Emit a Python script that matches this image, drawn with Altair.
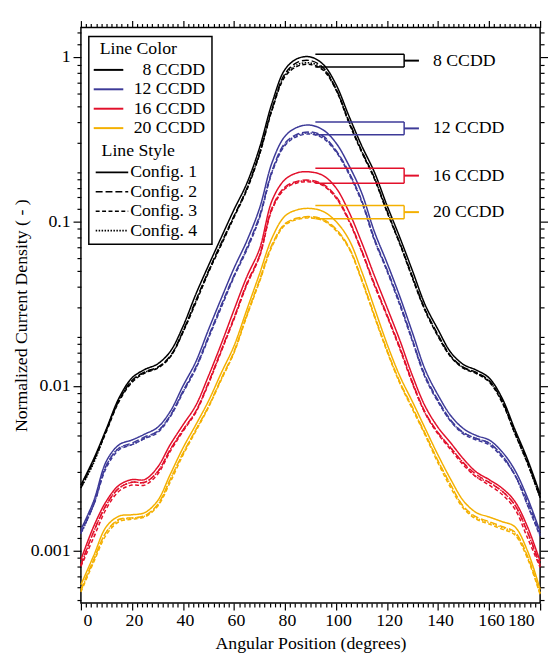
import altair as alt
import pandas as pd

# ---------------- data ----------------
degrees = list(range(0, 181, 5))

series_names = ["8 CCDD", "12 CCDD", "16 CCDD", "20 CCDD"]
config_names = ["Config. 1", "Config. 2", "Config. 3", "Config. 4"]

ccdd8_cfg1 = [0.0025, 0.0036, 0.0055, 0.0085, 0.0112, 0.0126, 0.0136, 0.0162, 0.0230, 0.036, 0.054, 0.080, 0.118, 0.170, 0.28, 0.53, 0.84, 0.98, 1.0, 0.90, 0.68, 0.44, 0.29, 0.20, 0.125, 0.080, 0.050, 0.031, 0.022, 0.016, 0.0135, 0.0125, 0.0112, 0.0085, 0.0055, 0.0036, 0.0022]
ccdd8_cfg2 = [0.0024, 0.0035, 0.0054, 0.0082, 0.0108, 0.0122, 0.0130, 0.0152, 0.0215, 0.033, 0.050, 0.074, 0.108, 0.158, 0.26, 0.49, 0.79, 0.93, 0.95, 0.86, 0.64, 0.41, 0.27, 0.185, 0.116, 0.074, 0.046, 0.029, 0.0205, 0.0152, 0.0130, 0.0121, 0.0108, 0.0082, 0.0053, 0.0035, 0.0021]
ccdd8_cfg3 = [0.0025, 0.0035, 0.0053, 0.0081, 0.0105, 0.0120, 0.0128, 0.0150, 0.0212, 0.032, 0.049, 0.072, 0.106, 0.155, 0.255, 0.48, 0.76, 0.88, 0.90, 0.83, 0.63, 0.40, 0.265, 0.182, 0.114, 0.073, 0.045, 0.0285, 0.020, 0.0150, 0.0128, 0.0119, 0.0106, 0.0080, 0.0052, 0.0034, 0.0021]
ccdd8_cfg4 = [0.0024, 0.0034, 0.0054, 0.0083, 0.0107, 0.0121, 0.0129, 0.0151, 0.0214, 0.0325, 0.0495, 0.073, 0.107, 0.157, 0.258, 0.485, 0.775, 0.90, 0.92, 0.845, 0.635, 0.405, 0.268, 0.184, 0.115, 0.0735, 0.0455, 0.0288, 0.0202, 0.0151, 0.0129, 0.0120, 0.0107, 0.0081, 0.0052, 0.0034, 0.0021]

ccdd12_cfg1 = [0.00134, 0.0020, 0.0035, 0.0044, 0.0047, 0.0051, 0.0056, 0.0070, 0.0100, 0.0140, 0.022, 0.034, 0.052, 0.076, 0.12, 0.23, 0.33, 0.375, 0.385, 0.36, 0.30, 0.22, 0.15, 0.087, 0.056, 0.035, 0.021, 0.0125, 0.0088, 0.0066, 0.0055, 0.0050, 0.0047, 0.0040, 0.0031, 0.0021, 0.0013]
ccdd12_cfg2 = [0.00128, 0.0019, 0.0033, 0.0042, 0.0045, 0.0049, 0.0053, 0.0066, 0.0093, 0.0130, 0.020, 0.031, 0.047, 0.069, 0.108, 0.205, 0.30, 0.34, 0.35, 0.33, 0.27, 0.20, 0.135, 0.079, 0.051, 0.032, 0.019, 0.0115, 0.0082, 0.0062, 0.0052, 0.0048, 0.0045, 0.0038, 0.0029, 0.0020, 0.00125]
ccdd12_cfg3 = [0.00130, 0.0019, 0.0032, 0.0041, 0.0044, 0.0048, 0.0052, 0.0065, 0.0091, 0.0127, 0.0195, 0.030, 0.046, 0.067, 0.105, 0.20, 0.29, 0.33, 0.34, 0.32, 0.265, 0.195, 0.132, 0.077, 0.050, 0.031, 0.0186, 0.0112, 0.0080, 0.0061, 0.0051, 0.0047, 0.0044, 0.0037, 0.0029, 0.0019, 0.00122]
ccdd12_cfg4 = [0.00126, 0.0019, 0.0033, 0.0042, 0.0044, 0.0048, 0.0053, 0.0066, 0.0092, 0.0128, 0.0198, 0.0305, 0.0465, 0.068, 0.106, 0.202, 0.295, 0.335, 0.345, 0.325, 0.268, 0.198, 0.134, 0.078, 0.0505, 0.0315, 0.0188, 0.0113, 0.0081, 0.0061, 0.0052, 0.0048, 0.0045, 0.0038, 0.0029, 0.0019, 0.00124]

ccdd16_cfg1 = [0.00088, 0.0014, 0.0020, 0.0025, 0.0027, 0.0027, 0.0032, 0.0044, 0.0058, 0.0076, 0.0115, 0.018, 0.029, 0.046, 0.068, 0.135, 0.18, 0.198, 0.20, 0.19, 0.16, 0.115, 0.075, 0.047, 0.030, 0.019, 0.0115, 0.0075, 0.0056, 0.0045, 0.0036, 0.0030, 0.0027, 0.0024, 0.0020, 0.0014, 0.00086]
ccdd16_cfg2 = [0.00082, 0.0013, 0.0019, 0.0024, 0.0026, 0.0026, 0.0030, 0.0041, 0.0054, 0.0070, 0.0105, 0.0165, 0.026, 0.042, 0.062, 0.122, 0.162, 0.176, 0.178, 0.168, 0.142, 0.103, 0.067, 0.042, 0.027, 0.0172, 0.0105, 0.0069, 0.0052, 0.0042, 0.0034, 0.0029, 0.0026, 0.0023, 0.0019, 0.0013, 0.00082]
ccdd16_cfg3 = [0.00080, 0.0012, 0.0018, 0.0023, 0.0025, 0.0025, 0.0029, 0.0040, 0.0053, 0.0069, 0.0103, 0.0162, 0.0255, 0.041, 0.061, 0.119, 0.158, 0.172, 0.174, 0.165, 0.139, 0.101, 0.066, 0.041, 0.0265, 0.0168, 0.0103, 0.0068, 0.0051, 0.0041, 0.0033, 0.0028, 0.0025, 0.0022, 0.0018, 0.0012, 0.00079]
ccdd16_cfg4 = [0.00081, 0.0013, 0.0019, 0.0024, 0.0026, 0.0026, 0.0030, 0.0041, 0.0054, 0.0070, 0.0104, 0.0164, 0.0258, 0.0415, 0.0615, 0.120, 0.160, 0.174, 0.176, 0.166, 0.140, 0.102, 0.0665, 0.0415, 0.0268, 0.0170, 0.0104, 0.0068, 0.0052, 0.0042, 0.0034, 0.0028, 0.0026, 0.0023, 0.0019, 0.0013, 0.00080]

ccdd20_cfg1 = [0.00062, 0.00093, 0.0014, 0.00162, 0.00165, 0.0017, 0.0020, 0.0029, 0.0042, 0.0058, 0.0081, 0.0120, 0.0175, 0.029, 0.048, 0.080, 0.108, 0.118, 0.12, 0.115, 0.100, 0.078, 0.050, 0.030, 0.018, 0.0115, 0.0080, 0.0055, 0.0038, 0.0027, 0.0020, 0.0017, 0.0016, 0.0015, 0.0014, 0.0010, 0.00058]
ccdd20_cfg2 = [0.00058, 0.00088, 0.0013, 0.00155, 0.00158, 0.00163, 0.0019, 0.0027, 0.0039, 0.0054, 0.0075, 0.0111, 0.0162, 0.027, 0.044, 0.073, 0.097, 0.105, 0.107, 0.103, 0.090, 0.070, 0.045, 0.027, 0.0165, 0.0106, 0.0074, 0.0051, 0.0035, 0.0025, 0.00185, 0.0016, 0.0015, 0.0014, 0.0013, 0.00093, 0.00055]
ccdd20_cfg3 = [0.00056, 0.00085, 0.00125, 0.00150, 0.00155, 0.00160, 0.00185, 0.0026, 0.0038, 0.0053, 0.0074, 0.0109, 0.0159, 0.0265, 0.043, 0.071, 0.095, 0.103, 0.105, 0.101, 0.088, 0.069, 0.044, 0.0265, 0.0162, 0.0104, 0.0072, 0.0050, 0.0034, 0.0024, 0.0018, 0.00155, 0.00145, 0.00135, 0.00125, 0.0009, 0.00054]
ccdd20_cfg4 = [0.00057, 0.00087, 0.0013, 0.00153, 0.00157, 0.00162, 0.00188, 0.0027, 0.0039, 0.0054, 0.0075, 0.0110, 0.0160, 0.0268, 0.0435, 0.072, 0.096, 0.104, 0.106, 0.102, 0.089, 0.0695, 0.0445, 0.0268, 0.0164, 0.0105, 0.0073, 0.0051, 0.0035, 0.0025, 0.00183, 0.00158, 0.00148, 0.00138, 0.00128, 0.00092, 0.00055]

# bracket annotations (peak spread per CCDD)
bracket_hi = [1.04, 0.403, 0.211, 0.125]
bracket_lo = [0.87, 0.337, 0.171, 0.104]
bracket_mid = [0.95, 0.368, 0.19, 0.114]

x_major = list(range(0, 181, 20))
x_minor = [v for v in range(0, 181, 2) if v % 20 != 0]
y_major = [0.001, 0.01, 0.1, 1]
y_minor = [m * d for d in [0.0001, 0.001, 0.01, 0.1, 1]
           for m in [1.2, 1.4, 1.6, 1.8, 2, 3, 4, 5, 6, 7, 8, 9]]

# ---------------- styles / layout ----------------
colors = ["#000000", "#3d3a98", "#e2102b", "#f4b000"]
dashes = [[1, 0], [7, 3], [4, 2.5], [1.5, 1.5]]
FONT = "Liberation Serif"
FS = 18
W, H = 466, 584
Y_MIN, Y_MAX = 0.00048, 1.51
BR_X0, BR_X1, BR_X2, LABEL_X = 91.9, 126.7, 132.5, 138.0

table = {
    "8 CCDD": [ccdd8_cfg1, ccdd8_cfg2, ccdd8_cfg3, ccdd8_cfg4],
    "12 CCDD": [ccdd12_cfg1, ccdd12_cfg2, ccdd12_cfg3, ccdd12_cfg4],
    "16 CCDD": [ccdd16_cfg1, ccdd16_cfg2, ccdd16_cfg3, ccdd16_cfg4],
    "20 CCDD": [ccdd20_cfg1, ccdd20_cfg2, ccdd20_cfg3, ccdd20_cfg4],
}
rows = []
for s in series_names:
    for c, vals in zip(config_names, table[s]):
        for d, v in zip(degrees, vals):
            rows.append({"deg": d, "val": v, "series": s, "config": c})
df = pd.DataFrame(rows)

xs = alt.Scale(domain=[0, 180], nice=False, zero=False)
ys = alt.Scale(type="log", domain=[Y_MIN, Y_MAX], nice=False)
cscale = alt.Scale(domain=series_names, range=colors)
dscale = alt.Scale(domain=config_names, range=dashes)

base_axis = dict(grid=False, domain=False, tickColor="black", tickWidth=1.2,
                 labelFont=FONT, titleFont=FONT, labelFontSize=FS, titleFontSize=FS,
                 labelColor="black", titleColor="black", titleFontWeight="normal")

x_main_axis = alt.Axis(orient="bottom", values=x_major, tickSize=7, labelPadding=2,
                       title="Angular Position (degrees)", titleX=W / 2, titleY=46,
                       titleAlign="center", titleBaseline="alphabetic",
                       labelOffset={"condition": {"test": "datum.value == 180", "value": -6}, "value": 2},
                       **base_axis)
y_main_axis = alt.Axis(orient="left", values=y_major, tickSize=8, labelPadding=3, format="~g",
                       title="Normalized Current Density ( - )", titleX=-60, titleY=H / 2,
                       titleAngle=270, titleAlign="center", titleBaseline="middle",
                       **base_axis)

lines = alt.Chart(df).mark_line(strokeWidth=1.5, interpolate="catmull-rom").encode(
    x=alt.X("deg:Q", scale=xs, axis=x_main_axis),
    y=alt.Y("val:Q", scale=ys, axis=y_main_axis),
    color=alt.Color("series:N", scale=cscale, legend=None),
    strokeDash=alt.StrokeDash("config:N", scale=dscale, legend=None),
)

anchor = pd.DataFrame({"deg": [0, 180], "val": [0.001, 1]})


def axis_layer(xaxis, yaxis):
    return alt.Chart(anchor).mark_point(opacity=0).encode(
        x=alt.X("deg:Q", scale=xs, axis=xaxis),
        y=alt.Y("val:Q", scale=ys, axis=yaxis),
    )


def plain(orient, values, size):
    return alt.Axis(orient=orient, values=values, tickSize=size, labels=False, title=None, **base_axis)


ax_minor = axis_layer(plain("bottom", x_minor, 4), plain("left", y_minor, 4))
ax_mirror = axis_layer(plain("top", x_major, 7), plain("right", y_major, 8))
ax_mirror_minor = axis_layer(plain("top", x_minor, 4), plain("right", y_minor, 4))

# brackets on the right
bdf = pd.DataFrame({"series": series_names, "hi": bracket_hi, "lo": bracket_lo, "mid": bracket_mid,
                    "x0": BR_X0, "x1": BR_X1, "x2": BR_X2, "lx": LABEL_X})
br_hi = alt.Chart(bdf).mark_rule(strokeWidth=1.5).encode(
    x=alt.X("x0:Q", scale=xs, axis=None), x2="x1:Q",
    y=alt.Y("hi:Q", scale=ys, axis=None),
    color=alt.Color("series:N", scale=cscale, legend=None))
br_lo = alt.Chart(bdf).mark_rule(strokeWidth=1.5).encode(
    x=alt.X("x0:Q", scale=xs, axis=None), x2="x1:Q",
    y=alt.Y("lo:Q", scale=ys, axis=None),
    color=alt.Color("series:N", scale=cscale, legend=None))
br_v = alt.Chart(bdf).mark_rule(strokeWidth=1.5).encode(
    x=alt.X("x1:Q", scale=xs, axis=None),
    y=alt.Y("hi:Q", scale=ys, axis=None), y2="lo:Q",
    color=alt.Color("series:N", scale=cscale, legend=None))
br_t = alt.Chart(bdf).mark_rule(strokeWidth=2).encode(
    x=alt.X("x1:Q", scale=xs, axis=None), x2="x2:Q",
    y=alt.Y("mid:Q", scale=ys, axis=None),
    color=alt.Color("series:N", scale=cscale, legend=None))
br_txt = alt.Chart(bdf).mark_text(align="left", baseline="middle", font=FONT, fontSize=FS,
                                  color="black").encode(
    x=alt.X("lx:Q", scale=xs, axis=None),
    y=alt.Y("mid:Q", scale=ys, axis=None),
    text="series:N")

# legend (pixel layout inside the plot area)
one = pd.DataFrame({"k": [0]})
leg_box = alt.Chart(one).mark_rect(fill="white", stroke="black", strokeWidth=1.5).encode(
    x=alt.value(8), x2=alt.value(133), y=alt.value(9), y2=alt.value(220))
leg_h1 = alt.Chart(one).mark_text(text="Line Color", align="left", baseline="middle",
                                  font=FONT, fontSize=FS, color="black").encode(
    x=alt.value(19), y=alt.value(22))
leg_h2 = alt.Chart(one).mark_text(text="Line Style", align="left", baseline="middle",
                                  font=FONT, fontSize=FS, color="black").encode(
    x=alt.value(21), y=alt.value(125))

cdf = pd.DataFrame({"series": series_names, "y": [43 + 19.7 * i for i in range(4)],
                    "a": 13, "b": 43, "t": 126})
leg_c = alt.Chart(cdf).mark_rule(strokeWidth=2).encode(
    x=alt.X("a:Q", scale=None, axis=None), x2="b:Q",
    y=alt.Y("y:Q", scale=None, axis=None),
    color=alt.Color("series:N", scale=cscale, legend=None))
leg_ct = alt.Chart(cdf).mark_text(align="right", baseline="middle", font=FONT, fontSize=FS,
                                  color="black").encode(
    x=alt.X("t:Q", scale=None, axis=None), y=alt.Y("y:Q", scale=None, axis=None), text="series:N")

sdf = pd.DataFrame({"config": config_names, "y": [147 + 19.7 * i for i in range(4)],
                    "a": 15, "b": 48, "t": 50})
leg_s = alt.Chart(sdf).mark_rule(strokeWidth=1.6, color="black").encode(
    x=alt.X("a:Q", scale=None, axis=None), x2="b:Q",
    y=alt.Y("y:Q", scale=None, axis=None),
    strokeDash=alt.StrokeDash("config:N", scale=dscale, legend=None))
leg_st = alt.Chart(sdf).mark_text(align="left", baseline="middle", font=FONT, fontSize=FS,
                                  color="black").encode(
    x=alt.X("t:Q", scale=None, axis=None), y=alt.Y("y:Q", scale=None, axis=None), text="config:N")

chart = alt.layer(
    lines, ax_minor, ax_mirror, ax_mirror_minor,
    br_hi, br_lo, br_v, br_t, br_txt,
    leg_box, leg_h1, leg_h2, leg_c, leg_ct, leg_s, leg_st,
).resolve_axis(x="independent", y="independent").properties(
    width=W, height=H,
    autosize=alt.AutoSizeParams(type="none"),
    padding={"left": 74, "top": 15, "right": 8, "bottom": 50},
).configure_view(stroke="black", strokeWidth=1.5)

chart.save("out.html", embed_options={"renderer": "svg", "actions": False})
